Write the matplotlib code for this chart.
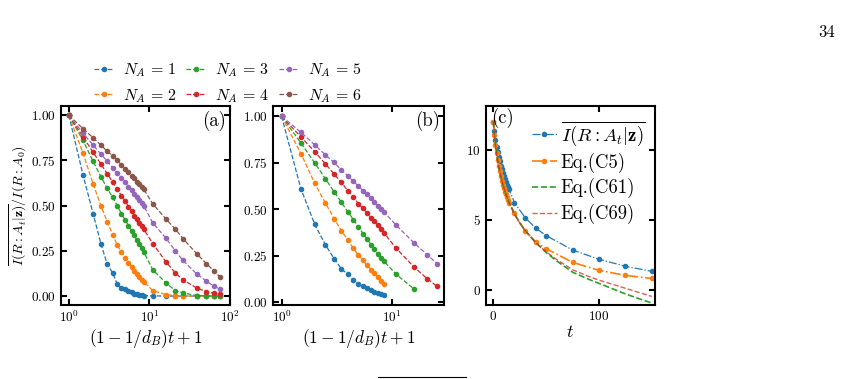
import matplotlib
matplotlib.use('Agg')
import matplotlib.pyplot as plt
from matplotlib.ticker import NullLocator
from matplotlib.lines import Line2D

plt.rcParams['font.family'] = 'serif'
plt.rcParams['font.serif'] = ['cmr10', 'DejaVu Serif']
plt.rcParams['mathtext.fontset'] = 'cm'
plt.rcParams['axes.formatter.use_mathtext'] = True
plt.rcParams['font.size'] = 11

# panel (a): x = (1-1/d_B)t+1
xa = [1, 1.5, 2, 2.5, 3, 3.5, 4, 4.5, 5, 5.5, 6, 6.5, 7, 7.5, 8, 8.5,
      11, 16, 21, 26, 38.5, 51, 63.5, 76]
a1 = [1.0, 0.67, 0.456, 0.29, 0.175, 0.127, 0.065, 0.045, 0.037, 0.026, 0.02, 0.014,
      0.01, 0.007, 0.005, 0.003, 0.001, 0.0, 0.0, 0.0, 0.0, 0.0, 0.0, 0.0]
a2 = [1.0, 0.79, 0.62, 0.50, 0.41, 0.34, 0.28, 0.245, 0.21, 0.18, 0.16, 0.14,
      0.12, 0.105, 0.09, 0.08, 0.03, 0.008, 0.002, 0.0, 0.0, 0.0, 0.0, 0.0]
a3 = [1.0, 0.86, 0.745, 0.66, 0.595, 0.545, 0.50, 0.455, 0.42, 0.39, 0.36, 0.335,
      0.31, 0.29, 0.265, 0.245, 0.145, 0.073, 0.03, 0.017, 0.003, 0.001, 0.0, 0.0]
a4 = [1.0, 0.88, 0.795, 0.73, 0.675, 0.63, 0.59, 0.555, 0.525, 0.495, 0.47, 0.445,
      0.425, 0.405, 0.385, 0.37, 0.29, 0.19, 0.128, 0.09, 0.045, 0.024, 0.015, 0.01]
a5 = [1.0, 0.90, 0.835, 0.785, 0.745, 0.71, 0.68, 0.655, 0.63, 0.605, 0.585, 0.565,
      0.545, 0.53, 0.515, 0.50, 0.405, 0.32, 0.25, 0.197, 0.123, 0.082, 0.054, 0.037]
a6 = [1.0, 0.925, 0.875, 0.835, 0.80, 0.775, 0.75, 0.725, 0.705, 0.685, 0.665, 0.65,
      0.632, 0.618, 0.603, 0.59, 0.51, 0.426, 0.37, 0.318, 0.235, 0.179, 0.138, 0.104]

# panel (b)
xb_short = [1, 1.5, 2, 2.5, 3, 3.5, 4, 4.5, 5, 5.5, 6, 6.5, 7, 7.5, 8, 8.5]
xb_mid = [1, 1.5, 2, 2.5, 3, 3.5, 4, 4.5, 5, 5.5, 6, 6.5, 7, 7.5, 8, 8.5, 11, 16]
xb_long = [1, 1.5, 2, 2.5, 3, 3.5, 4, 4.5, 5, 5.5, 6, 6.5, 7, 7.5, 8, 8.5, 11, 16, 21, 26]
b1 = [1.0, 0.61, 0.42, 0.31, 0.235, 0.18, 0.15, 0.122, 0.10, 0.088, 0.077, 0.067,
      0.058, 0.051, 0.045, 0.04]
b2 = [1.0, 0.80, 0.64, 0.535, 0.45, 0.385, 0.335, 0.29, 0.255, 0.225, 0.20, 0.175,
      0.155, 0.135, 0.115, 0.10]
b3 = [1.0, 0.857, 0.75, 0.665, 0.595, 0.537, 0.487, 0.445, 0.405, 0.37, 0.34, 0.31,
      0.285, 0.26, 0.24, 0.222, 0.151, 0.072]
b4 = [1.0, 0.889, 0.81, 0.745, 0.69, 0.645, 0.60, 0.565, 0.53, 0.505, 0.48, 0.455,
      0.435, 0.415, 0.395, 0.375, 0.291, 0.19, 0.128, 0.085]
b5 = [1.0, 0.914, 0.847, 0.793, 0.752, 0.711, 0.68, 0.65, 0.625, 0.60, 0.58, 0.56,
      0.54, 0.52, 0.503, 0.487, 0.415, 0.32, 0.257, 0.208]

# panel (c)
tc = [0, 1, 2, 3, 4, 5, 6, 7, 8, 9, 10, 11, 12, 13, 14, 15, 20, 30, 40, 50, 75, 100, 125, 150]
c_avg = [12.0, 11.3, 10.7, 10.2, 9.8, 9.45, 9.15, 8.85, 8.6, 8.35, 8.1, 7.9, 7.7, 7.5,
         7.3, 7.15, 6.2, 5.15, 4.4, 3.86, 2.83, 2.17, 1.67, 1.31]
c_c5 = [12.0, 11.07, 10.35, 9.75, 9.26, 8.82, 8.44, 8.1, 7.79, 7.5, 7.25, 7.0, 6.8, 6.6,
        6.4, 6.2, 5.45, 4.2, 3.4, 2.93, 1.95, 1.38, 1.02, 0.8]
tl = [0, 1, 2, 3, 4, 5, 6, 8, 10, 12, 15, 20, 25, 30, 40, 50, 60, 75, 90, 100, 110, 125, 140, 150]
c_c61 = [12.0, 11.07, 10.35, 9.75, 9.26, 8.82, 8.44, 7.79, 7.25, 6.79, 6.19, 5.40, 4.76,
         4.23, 3.37, 2.65, 2.05, 1.25, 0.75, 0.45, 0.15, -0.3, -0.7, -0.95]
c_c69 = [12.0, 11.07, 10.35, 9.75, 9.26, 8.82, 8.44, 7.79, 7.25, 6.79, 6.19, 5.40, 4.76,
         4.23, 3.38, 2.7, 2.15, 1.42, 0.95, 0.68, 0.45, 0.1, -0.25, -0.48]

labels = [r'$N_A\,=\,1$', r'$N_A\,=\,2$', r'$N_A\,=\,3$',
          r'$N_A\,=\,4$', r'$N_A\,=\,5$', r'$N_A\,=\,6$']
cols = ['C0', 'C1', 'C2', 'C3', 'C4', 'C5']

fig = plt.figure(figsize=(8.45, 3.79), dpi=100)
axa = fig.add_axes([0.0722, 0.195, 0.2, 0.525])
axb = fig.add_axes([0.3227, 0.195, 0.2027, 0.525])
axc = fig.add_axes([0.5751, 0.195, 0.2, 0.525])

kw = dict(linestyle='--', linewidth=0.9, marker='o', markersize=3)
for y, c, l in zip([a1, a2, a3, a4, a5, a6], cols, labels):
    axa.plot(xa, y, color=c, label=l, **kw)
for x, y, c in zip([xb_short, xb_short, xb_mid, xb_long, xb_long],
                   [b1, b2, b3, b4, b5], cols):
    axb.plot(x, y, color=c, **kw)

axc.plot(tc, c_avg, color='C0', linestyle='-.', linewidth=0.9, marker='o', markersize=3,
         label=r'$\overline{I(R:A_t|\mathbf{z})}$')
axc.plot(tc, c_c5, color='C1', linestyle='-.', linewidth=1.2, marker='o', markersize=3,
         label='Eq.(C5)')
axc.plot(tl, c_c61, color='C2', linestyle='--', linewidth=1.2, label='Eq.(C61)')
axc.plot(tl, c_c69, color='C3', linestyle='--', linewidth=1.0, alpha=0.75, label='Eq.(C69)')

for ax in [axa, axb]:
    ax.set_xscale('log')
    ax.xaxis.set_minor_locator(NullLocator())
    ax.set_yticks([0, 0.25, 0.5, 0.75, 1.0])
    ax.set_xlabel('$(1-1/d_B)t+1$', fontsize=12.5, labelpad=1)
axa.set_xlim(0.8, 100)
axa.set_ylim(-0.05, 1.05)
axb.set_xlim(0.83, 30)
axb.set_ylim(-0.015, 1.055)
axa.set_ylabel(r'$\overline{I(R:A_t|\mathbf{z})}/I(R:A_0)$', fontsize=10, labelpad=1)
axa.text(0.975, 0.975, '(a)', transform=axa.transAxes, ha='right', va='top', fontsize=13.5)
axb.text(0.975, 0.975, '(b)', transform=axb.transAxes, ha='right', va='top', fontsize=13.5)

axc.set_xlim(-7, 153)
axc.set_ylim(-1.1, 13.1)
axc.set_xticks([0, 100])
axc.set_yticks([0, 5, 10])
axc.set_xlabel('$t$', fontsize=13, labelpad=1)
axc.text(0.03, 0.99, '(c)', transform=axc.transAxes, ha='left', va='top', fontsize=13.5)
axc.legend(loc='upper left', bbox_to_anchor=(0.27, 0.935), frameon=False, handlelength=1.35,
           handletextpad=0.2, labelspacing=0.3, borderpad=0, borderaxespad=0, fontsize=13.5)

for ax in [axa, axb, axc]:
    ax.tick_params(which='both', direction='in', top=True, right=True, width=1.5, length=4,
                   labelsize=9.5)
    for s in ax.spines.values():
        s.set_linewidth(1.5)

fig.legend(*axa.get_legend_handles_labels(), loc='center', bbox_to_anchor=(0.27, 0.781),
           ncol=3, frameon=False, handlelength=1.2, handletextpad=0.6, columnspacing=0.6,
           labelspacing=0.5, fontsize=11.5)

fig.text(0.988, 0.915, '34', ha='right', va='center', fontsize=12)
fig.add_artist(Line2D([0.447, 0.552], [0.006, 0.006], color='black', linewidth=0.8))

fig.savefig('out.png', dpi=100)
